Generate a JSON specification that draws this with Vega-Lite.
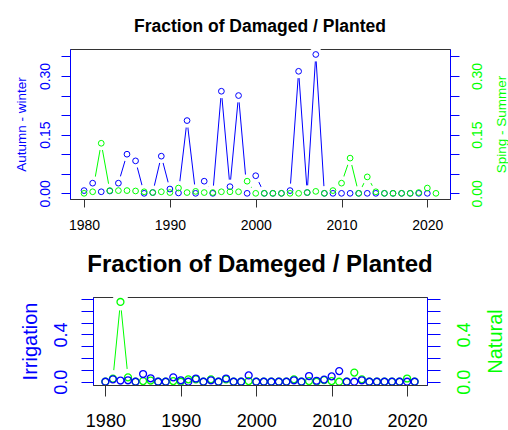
{
  "$schema": "https://vega.github.io/schema/vega-lite/v6.json",
  "padding": {"left": 13, "top": 17, "right": 0, "bottom": 0},
  "background": "white",
  "config": {
    "view": {"stroke": "#333333", "strokeWidth": 1},
    "font": "Liberation Sans",
    "axis": {"grid": false, "labelFont": "Liberation Sans", "titleFont": "Liberation Sans", "titleFontWeight": "normal", "labelFlush": false, "labelOverlap": false}
  },
  "spacing": 98,
  "bounds": "flush",
  "center": true,
  "datasets": {
    "top": [
      {"year": 1980, "series": "Autumn-winter", "value": 0.007},
      {"year": 1981, "series": "Autumn-winter", "value": 0.026},
      {"year": 1982, "series": "Autumn-winter", "value": 0.004},
      {"year": 1983, "series": "Autumn-winter", "value": 0.006},
      {"year": 1984, "series": "Autumn-winter", "value": 0.026},
      {"year": 1985, "series": "Autumn-winter", "value": 0.100},
      {"year": 1986, "series": "Autumn-winter", "value": 0.083},
      {"year": 1987, "series": "Autumn-winter", "value": 0.0},
      {"year": 1988, "series": "Autumn-winter", "value": 0.002},
      {"year": 1989, "series": "Autumn-winter", "value": 0.095},
      {"year": 1990, "series": "Autumn-winter", "value": 0.011},
      {"year": 1991, "series": "Autumn-winter", "value": 0.001},
      {"year": 1992, "series": "Autumn-winter", "value": 0.186},
      {"year": 1993, "series": "Autumn-winter", "value": 0.0},
      {"year": 1994, "series": "Autumn-winter", "value": 0.031},
      {"year": 1995, "series": "Autumn-winter", "value": 0.0},
      {"year": 1996, "series": "Autumn-winter", "value": 0.261},
      {"year": 1997, "series": "Autumn-winter", "value": 0.017},
      {"year": 1998, "series": "Autumn-winter", "value": 0.250},
      {"year": 1999, "series": "Autumn-winter", "value": 0.0},
      {"year": 2000, "series": "Autumn-winter", "value": 0.045},
      {"year": 2001, "series": "Autumn-winter", "value": 0.0},
      {"year": 2002, "series": "Autumn-winter", "value": 0.0},
      {"year": 2003, "series": "Autumn-winter", "value": 0.0},
      {"year": 2004, "series": "Autumn-winter", "value": 0.007},
      {"year": 2005, "series": "Autumn-winter", "value": 0.312},
      {"year": 2006, "series": "Autumn-winter", "value": 0.002},
      {"year": 2007, "series": "Autumn-winter", "value": 0.355},
      {"year": 2008, "series": "Autumn-winter", "value": 0.0},
      {"year": 2009, "series": "Autumn-winter", "value": 0.0},
      {"year": 2010, "series": "Autumn-winter", "value": 0.0},
      {"year": 2011, "series": "Autumn-winter", "value": 0.0},
      {"year": 2012, "series": "Autumn-winter", "value": 0.0},
      {"year": 2013, "series": "Autumn-winter", "value": 0.0},
      {"year": 2014, "series": "Autumn-winter", "value": 0.0},
      {"year": 2015, "series": "Autumn-winter", "value": 0.0},
      {"year": 2016, "series": "Autumn-winter", "value": 0.0},
      {"year": 2017, "series": "Autumn-winter", "value": 0.0},
      {"year": 2018, "series": "Autumn-winter", "value": 0.0},
      {"year": 2019, "series": "Autumn-winter", "value": 0.0},
      {"year": 2020, "series": "Autumn-winter", "value": 0.0},
      {"year": 1980, "series": "Spring-Summer", "value": 0.0},
      {"year": 1981, "series": "Spring-Summer", "value": 0.004},
      {"year": 1982, "series": "Spring-Summer", "value": 0.128},
      {"year": 1983, "series": "Spring-Summer", "value": 0.007},
      {"year": 1984, "series": "Spring-Summer", "value": 0.007},
      {"year": 1985, "series": "Spring-Summer", "value": 0.007},
      {"year": 1986, "series": "Spring-Summer", "value": 0.006},
      {"year": 1987, "series": "Spring-Summer", "value": 0.004},
      {"year": 1988, "series": "Spring-Summer", "value": 0.002},
      {"year": 1989, "series": "Spring-Summer", "value": 0.004},
      {"year": 1990, "series": "Spring-Summer", "value": 0.002},
      {"year": 1991, "series": "Spring-Summer", "value": 0.0135},
      {"year": 1992, "series": "Spring-Summer", "value": 0.002},
      {"year": 1993, "series": "Spring-Summer", "value": 0.005},
      {"year": 1994, "series": "Spring-Summer", "value": 0.002},
      {"year": 1995, "series": "Spring-Summer", "value": 0.002},
      {"year": 1996, "series": "Spring-Summer", "value": 0.004},
      {"year": 1997, "series": "Spring-Summer", "value": 0.004},
      {"year": 1998, "series": "Spring-Summer", "value": 0.004},
      {"year": 1999, "series": "Spring-Summer", "value": 0.031},
      {"year": 2000, "series": "Spring-Summer", "value": 0.0},
      {"year": 2001, "series": "Spring-Summer", "value": 0.0},
      {"year": 2002, "series": "Spring-Summer", "value": 0.0},
      {"year": 2003, "series": "Spring-Summer", "value": 0.0},
      {"year": 2004, "series": "Spring-Summer", "value": 0.0},
      {"year": 2005, "series": "Spring-Summer", "value": 0.0},
      {"year": 2006, "series": "Spring-Summer", "value": 0.002},
      {"year": 2007, "series": "Spring-Summer", "value": 0.005},
      {"year": 2008, "series": "Spring-Summer", "value": 0.0},
      {"year": 2009, "series": "Spring-Summer", "value": 0.007},
      {"year": 2010, "series": "Spring-Summer", "value": 0.026},
      {"year": 2011, "series": "Spring-Summer", "value": 0.090},
      {"year": 2012, "series": "Spring-Summer", "value": 0.0},
      {"year": 2013, "series": "Spring-Summer", "value": 0.042},
      {"year": 2014, "series": "Spring-Summer", "value": 0.004},
      {"year": 2015, "series": "Spring-Summer", "value": 0.0},
      {"year": 2016, "series": "Spring-Summer", "value": 0.0},
      {"year": 2017, "series": "Spring-Summer", "value": 0.0},
      {"year": 2018, "series": "Spring-Summer", "value": 0.0},
      {"year": 2019, "series": "Spring-Summer", "value": 0.002},
      {"year": 2020, "series": "Spring-Summer", "value": 0.0135},
      {"year": 2021, "series": "Spring-Summer", "value": 0.0}
    ],
    "bottom": [
      {"year": 1980, "series": "Irrigation", "value": 0.0},
      {"year": 1981, "series": "Irrigation", "value": 0.02},
      {"year": 1982, "series": "Irrigation", "value": 0.01},
      {"year": 1983, "series": "Irrigation", "value": 0.012},
      {"year": 1984, "series": "Irrigation", "value": 0.0},
      {"year": 1985, "series": "Irrigation", "value": 0.065},
      {"year": 1986, "series": "Irrigation", "value": 0.029},
      {"year": 1987, "series": "Irrigation", "value": 0.0},
      {"year": 1988, "series": "Irrigation", "value": 0.0},
      {"year": 1989, "series": "Irrigation", "value": 0.037},
      {"year": 1990, "series": "Irrigation", "value": 0.012},
      {"year": 1991, "series": "Irrigation", "value": 0.0},
      {"year": 1992, "series": "Irrigation", "value": 0.027},
      {"year": 1993, "series": "Irrigation", "value": 0.0},
      {"year": 1994, "series": "Irrigation", "value": 0.012},
      {"year": 1995, "series": "Irrigation", "value": 0.0},
      {"year": 1996, "series": "Irrigation", "value": 0.027},
      {"year": 1997, "series": "Irrigation", "value": 0.0},
      {"year": 1998, "series": "Irrigation", "value": 0.0},
      {"year": 1999, "series": "Irrigation", "value": 0.053},
      {"year": 2000, "series": "Irrigation", "value": 0.0},
      {"year": 2001, "series": "Irrigation", "value": 0.0},
      {"year": 2002, "series": "Irrigation", "value": 0.0},
      {"year": 2003, "series": "Irrigation", "value": 0.0},
      {"year": 2004, "series": "Irrigation", "value": 0.0},
      {"year": 2005, "series": "Irrigation", "value": 0.012},
      {"year": 2006, "series": "Irrigation", "value": 0.0},
      {"year": 2007, "series": "Irrigation", "value": 0.048},
      {"year": 2008, "series": "Irrigation", "value": 0.008},
      {"year": 2009, "series": "Irrigation", "value": 0.018},
      {"year": 2010, "series": "Irrigation", "value": 0.045},
      {"year": 2011, "series": "Irrigation", "value": 0.09},
      {"year": 2012, "series": "Irrigation", "value": 0.0},
      {"year": 2013, "series": "Irrigation", "value": 0.0},
      {"year": 2014, "series": "Irrigation", "value": 0.012},
      {"year": 2015, "series": "Irrigation", "value": 0.0},
      {"year": 2016, "series": "Irrigation", "value": 0.0},
      {"year": 2017, "series": "Irrigation", "value": 0.0},
      {"year": 2018, "series": "Irrigation", "value": 0.0},
      {"year": 2019, "series": "Irrigation", "value": 0.0},
      {"year": 2020, "series": "Irrigation", "value": 0.0},
      {"year": 2021, "series": "Irrigation", "value": 0.0},
      {"year": 1980, "series": "Natural", "value": 0.0},
      {"year": 1981, "series": "Natural", "value": 0.025},
      {"year": 1982, "series": "Natural", "value": 0.675},
      {"year": 1983, "series": "Natural", "value": 0.037},
      {"year": 1984, "series": "Natural", "value": 0.0},
      {"year": 1985, "series": "Natural", "value": 0.005},
      {"year": 1986, "series": "Natural", "value": 0.01},
      {"year": 1987, "series": "Natural", "value": 0.0},
      {"year": 1988, "series": "Natural", "value": 0.0},
      {"year": 1989, "series": "Natural", "value": 0.005},
      {"year": 1990, "series": "Natural", "value": 0.0},
      {"year": 1991, "series": "Natural", "value": 0.02},
      {"year": 1992, "series": "Natural", "value": 0.02},
      {"year": 1993, "series": "Natural", "value": 0.0},
      {"year": 1994, "series": "Natural", "value": 0.02},
      {"year": 1995, "series": "Natural", "value": 0.0},
      {"year": 1996, "series": "Natural", "value": 0.02},
      {"year": 1997, "series": "Natural", "value": 0.0},
      {"year": 1998, "series": "Natural", "value": 0.0},
      {"year": 1999, "series": "Natural", "value": 0.005},
      {"year": 2000, "series": "Natural", "value": 0.0},
      {"year": 2001, "series": "Natural", "value": 0.0},
      {"year": 2002, "series": "Natural", "value": 0.0},
      {"year": 2003, "series": "Natural", "value": 0.0},
      {"year": 2004, "series": "Natural", "value": 0.0},
      {"year": 2005, "series": "Natural", "value": 0.02},
      {"year": 2006, "series": "Natural", "value": 0.0},
      {"year": 2007, "series": "Natural", "value": 0.005},
      {"year": 2008, "series": "Natural", "value": 0.0},
      {"year": 2009, "series": "Natural", "value": 0.014},
      {"year": 2010, "series": "Natural", "value": 0.005},
      {"year": 2011, "series": "Natural", "value": 0.0},
      {"year": 2012, "series": "Natural", "value": 0.0},
      {"year": 2013, "series": "Natural", "value": 0.077},
      {"year": 2014, "series": "Natural", "value": 0.02},
      {"year": 2015, "series": "Natural", "value": 0.0},
      {"year": 2016, "series": "Natural", "value": 0.0},
      {"year": 2017, "series": "Natural", "value": 0.0},
      {"year": 2018, "series": "Natural", "value": 0.0},
      {"year": 2019, "series": "Natural", "value": 0.0},
      {"year": 2020, "series": "Natural", "value": 0.027},
      {"year": 2021, "series": "Natural", "value": 0.0}
    ]
  },
  "vconcat": [
    {
      "width": 380,
      "height": 150,
      "title": {"text": "Fraction of Damaged / Planted", "fontSize": 17.5, "fontWeight": "bold", "font": "Liberation Sans", "color": "black", "frame": "group", "anchor": "middle", "baseline": "alphabetic", "offset": -2},
      "data": {"name": "top"},
      "layer": [
        {
          "encoding": {
            "x": {"field": "year", "type": "quantitative", "scale": {"domain": [1978.36, 2022.64], "nice": false, "zero": false},
                  "axis": {"values": [1980, 1990, 2000, 2010, 2020], "format": "d", "tickSize": 8, "tickColor": "#333333", "domainColor": "#333333", "labelFontSize": 14, "labelColor": "black", "labelPadding": 11, "title": null, "zindex": 1}},
            "y": {"field": "value", "type": "quantitative", "scale": {"domain": [-0.0145, 0.369], "nice": false, "zero": false},
                  "axis": {"orient": "left", "values": [0, 0.05, 0.1, 0.15, 0.2, 0.25, 0.3, 0.35], "format": ".2f",
                           "labelExpr": "(datum.value == 0 || datum.value == 0.15 || datum.value == 0.3) ? datum.label : ''",
                           "labelAngle": -90, "labelAlign": "center", "labelBaseline": "alphabetic", "labelPadding": 12, "labelFontSize": 14,
                           "labelColor": "#0000ff", "tickColor": "#0000ff", "tickSize": 9, "domainColor": "#0000ff",
                           "title": "Autumn - winter", "titleColor": "#0000ff", "titleFontSize": 13.5, "titlePadding": 10}}
          },
          "layer": [
            {"transform": [{"filter": "datum.series == 'Autumn-winter'"}], "mark": {"type": "line", "color": "#0000ff", "strokeWidth": 1}},
            {"transform": [{"filter": "datum.series == 'Spring-Summer'"}], "mark": {"type": "line", "color": "#00ff00", "strokeWidth": 1}},
            {"mark": {"type": "point", "shape": "circle", "filled": true, "fill": "white", "strokeWidth": 0, "size": 200, "opacity": 1}},
            {"transform": [{"filter": "datum.series == 'Autumn-winter'"}], "mark": {"type": "point", "shape": "circle", "filled": false, "color": "#0000ff", "size": 33, "strokeWidth": 1, "opacity": 1}}
          ]
        },
        {
          "transform": [{"filter": "datum.series == 'Spring-Summer'"}],
          "mark": {"type": "point", "shape": "circle", "filled": false, "color": "#00ff00", "size": 33, "strokeWidth": 1, "opacity": 1},
          "encoding": {
            "x": {"field": "year", "type": "quantitative"},
            "y": {"field": "value", "type": "quantitative", "scale": {"domain": [-0.0145, 0.369], "nice": false, "zero": false},
                  "axis": {"orient": "right", "values": [0, 0.05, 0.1, 0.15, 0.2, 0.25, 0.3, 0.35], "format": ".2f",
                           "labelExpr": "(datum.value == 0 || datum.value == 0.15 || datum.value == 0.3) ? datum.label : ''",
                           "labelAngle": -90, "labelAlign": "center", "labelBaseline": "top", "labelPadding": 11, "labelFontSize": 14,
                           "labelColor": "#00ff00", "tickColor": "#0000ff", "tickSize": 9, "domainColor": "#0000ff",
                           "title": "Sping - Summer", "titleColor": "#00ff00", "titleFontSize": 13.5, "titleAngle": 270, "titleBaseline": "top", "titlePadding": 10}}
          }
        }
      ],
      "resolve": {"scale": {"y": "independent"}, "axis": {"y": "independent"}}
    },
    {
      "width": 334,
      "height": 88,
      "title": {"text": "Fraction of Dameged / Planted", "fontSize": 24, "fontWeight": "bold", "font": "Liberation Sans", "color": "black", "frame": "group", "anchor": "middle", "baseline": "alphabetic", "offset": -3},
      "data": {"name": "bottom"},
      "layer": [
        {
          "encoding": {
            "x": {"field": "year", "type": "quantitative", "scale": {"domain": [1978.36, 2022.64], "nice": false, "zero": false},
                  "axis": {"values": [1980, 1990, 2000, 2010, 2020], "format": "d", "tickSize": 11, "tickColor": "#333333", "domainColor": "#333333", "labelFontSize": 18, "labelColor": "black", "labelPadding": 16, "title": null, "zindex": 1}},
            "y": {"field": "value", "type": "quantitative", "scale": {"domain": [-0.028, 0.717], "nice": false, "zero": false},
                  "axis": {"orient": "left", "values": [0, 0.1, 0.2, 0.3, 0.4, 0.5, 0.6, 0.7], "format": ".1f",
                           "labelExpr": "(datum.value == 0 || datum.value == 0.4) ? datum.label : ''",
                           "labelAngle": -90, "labelAlign": "center", "labelBaseline": "alphabetic", "labelPadding": 15, "labelFontSize": 18,
                           "labelColor": "#0000ff", "tickColor": "#0000ff", "tickSize": 12, "domainColor": "#0000ff",
                           "title": "Irrigation", "titleColor": "#0000ff", "titleFontSize": 20, "titlePadding": 12}}
          },
          "layer": [
            {"transform": [{"filter": "datum.series == 'Irrigation'"}], "mark": {"type": "line", "color": "#0000ff", "strokeWidth": 1}},
            {"transform": [{"filter": "datum.series == 'Natural'"}], "mark": {"type": "line", "color": "#00ff00", "strokeWidth": 1}},
            {"mark": {"type": "point", "shape": "circle", "filled": true, "fill": "white", "strokeWidth": 0, "size": 300, "opacity": 1}},
            {"transform": [{"filter": "datum.series == 'Natural'"}], "mark": {"type": "point", "shape": "circle", "filled": false, "color": "#00ff00", "size": 48, "strokeWidth": 1.3, "opacity": 1}}
          ]
        },
        {
          "transform": [{"filter": "datum.series == 'Irrigation'"}],
          "mark": {"type": "point", "shape": "circle", "filled": false, "color": "#0000ff", "size": 48, "strokeWidth": 1.3, "opacity": 1},
          "encoding": {
            "x": {"field": "year", "type": "quantitative"},
            "y": {"field": "value", "type": "quantitative", "scale": {"domain": [-0.028, 0.717], "nice": false, "zero": false},
                  "axis": {"orient": "right", "values": [0, 0.1, 0.2, 0.3, 0.4, 0.5, 0.6, 0.7], "format": ".1f",
                           "labelExpr": "(datum.value == 0 || datum.value == 0.4) ? datum.label : ''",
                           "labelAngle": -90, "labelAlign": "center", "labelBaseline": "top", "labelPadding": 15, "labelFontSize": 18,
                           "labelColor": "#00ff00", "tickColor": "#0000ff", "tickSize": 13, "domainColor": "#0000ff",
                           "title": "Natural", "titleColor": "#00ff00", "titleFontSize": 20, "titleAngle": 270, "titleBaseline": "top", "titlePadding": 12}}
          }
        }
      ],
      "resolve": {"scale": {"y": "independent"}, "axis": {"y": "independent"}}
    }
  ]
}
